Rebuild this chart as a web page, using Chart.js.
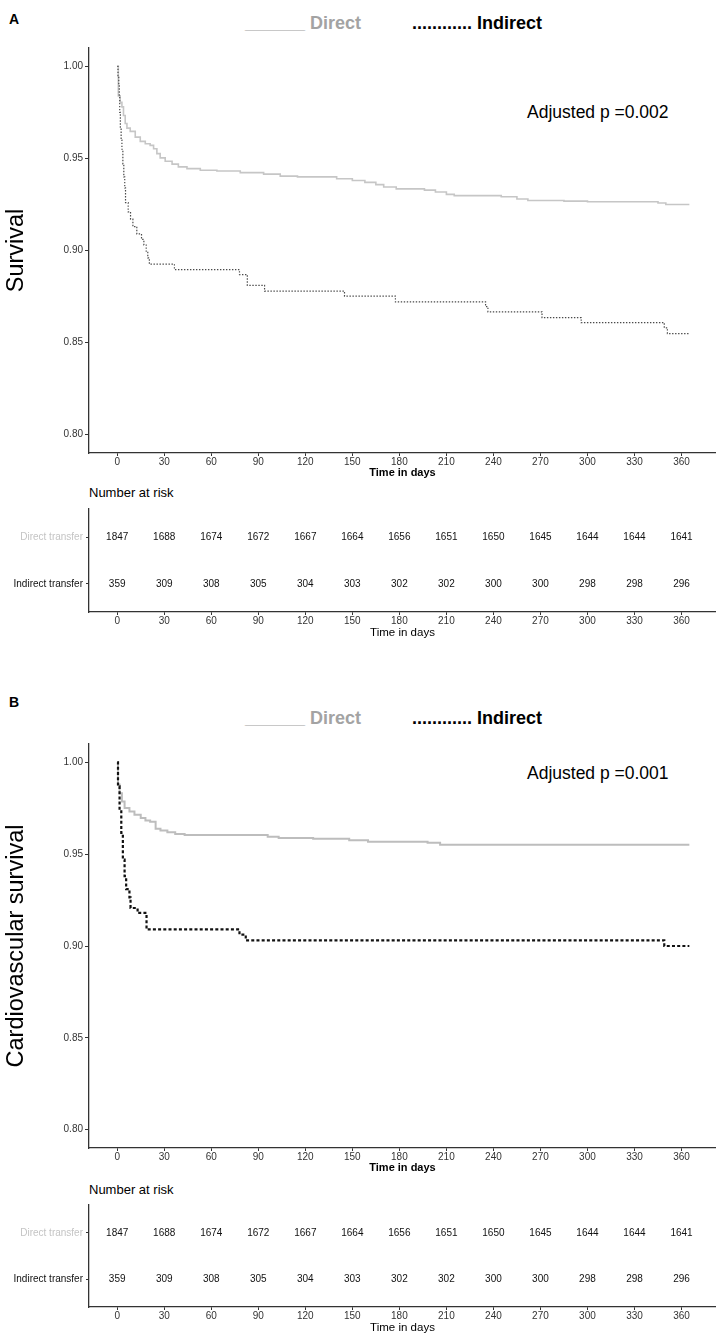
<!DOCTYPE html>
<html>
<head>
<meta charset="utf-8">
<script src="https://cdn.jsdelivr.net/npm/chart.js@4.4.1/dist/chart.umd.min.js"></script>
<style>
  body { margin: 0; background: #fff; }
  #page { position: relative; width: 716px; height: 1339px; font-family: "Liberation Sans", Arial, sans-serif; }
  canvas { position: absolute; left: 0; }
  .txt { position: absolute; white-space: pre; line-height: 1; }
  .panel { font-size: 14px; font-weight: bold; left: 9px; }
  .leg { font-size: 18px; font-weight: bold; }
  .pval { font-size: 17.5px; left: 527px; }
  .risk { font-size: 13px; left: 89px; }
</style>
</head>
<body>
<div id="page">
  <div class="txt panel" style="top:11.5px">A</div>
  <div class="txt leg" style="left:245px;top:14px;color:#a3a3a3">______ Direct</div>
  <div class="txt leg" style="left:412px;top:14px;color:#000">............ Indirect</div>
  <div class="txt pval" style="top:104px">Adjusted p =0.002</div>
  <canvas id="kmA" width="716" height="440" style="top:40px"></canvas>
  <div class="txt risk" style="top:486px">Number at risk</div>
  <canvas id="riskA" width="716" height="140" style="top:500px"></canvas>

  <div class="txt panel" style="top:695px">B</div>
  <div class="txt leg" style="left:245px;top:709px;color:#a3a3a3">______ Direct</div>
  <div class="txt leg" style="left:412px;top:709px;color:#000">............ Indirect</div>
  <div class="txt pval" style="top:765px">Adjusted p =0.001</div>
  <canvas id="kmB" width="716" height="439" style="top:736px"></canvas>
  <div class="txt risk" style="top:1183px">Number at risk</div>
  <canvas id="riskB" width="716" height="139" style="top:1196px"></canvas>
</div>
<script>
// ticks
const xTicks = [0, 30, 60, 90, 120, 150, 180, 210, 240, 270, 300, 330, 360]
const yTicks = [0.80, 0.85, 0.90, 0.95, 1.00]

// number at risk (same in both panels)
const riskDays = [0, 30, 60, 90, 120, 150, 180, 210, 240, 270, 300, 330, 360]
const riskDirect = [1847, 1688, 1674, 1672, 1667, 1664, 1656, 1651, 1650, 1645, 1644, 1644, 1641]
const riskIndirect = [359, 309, 308, 305, 304, 303, 302, 302, 300, 300, 298, 298, 296]

// panel A - survival
const tDirectA = [0, 0.7, 1.9, 3, 4, 5.1, 6.2, 8.3, 11.5, 14.7, 17.9, 21, 23.2, 25.3, 27.4, 30.6, 35, 39, 44.5, 53,
  63.6, 78.5, 93.4, 104, 115, 140, 150, 158, 165, 170, 178, 196, 203, 210, 215, 245, 255, 262, 285, 300, 345, 350, 365]
const sDirectA = [1.000, 0.984, 0.9805, 0.978, 0.9733, 0.969, 0.9665, 0.9647, 0.9616, 0.9593, 0.958, 0.9571, 0.9553, 0.9526, 0.9503, 0.9485, 0.9469, 0.9454, 0.9445, 0.9436,
  0.9432, 0.9423, 0.9415, 0.9404, 0.9400, 0.9390, 0.9380, 0.9370, 0.9358, 0.9345, 0.9335, 0.9328, 0.9318, 0.9305, 0.9298, 0.9292, 0.9280, 0.9272, 0.9268, 0.9265, 0.9258, 0.9250, 0.9250]
const tIndirectA = [0, 0.5, 1, 1.3, 1.6, 2, 2.5, 3, 3.6, 4.2, 4.8, 5.3, 7, 8.5, 10, 12.5, 15.5, 17, 18.5, 19.5,
  20.5, 36.5, 78, 83, 94, 145, 177.5, 235, 236.5, 271, 296, 349, 351, 365]
const sIndirectA = [1.000, 0.995, 0.990, 0.984, 0.975, 0.967, 0.960, 0.955, 0.947, 0.940, 0.934, 0.926, 0.921, 0.917, 0.913, 0.909, 0.906, 0.903, 0.899, 0.896,
  0.8926, 0.8896, 0.8869, 0.8811, 0.8779, 0.8752, 0.8721, 0.8695, 0.8667, 0.8635, 0.8608, 0.8580, 0.8549, 0.8549]

// panel B - cardiovascular survival
const tDirectB = [0, 0.5, 1.5, 3, 4.7, 7.8, 11, 15, 18, 21, 24.5, 27.6, 32, 37, 43, 96, 103, 125, 148, 160, 198, 206, 365]
const sDirectB = [1.000, 0.988, 0.9832, 0.9787, 0.9751, 0.9733, 0.9715, 0.9697, 0.9684, 0.9676, 0.9638, 0.9629, 0.962, 0.961, 0.9604, 0.9595, 0.9588, 0.9584, 0.9576, 0.9568, 0.9562, 0.9552, 0.9552]
const tIndirectB = [0, 0.5, 1.5, 2.6, 3.6, 4.7, 5.7, 7.8, 8.5, 13, 18.7, 78, 82, 349, 365]
const sIndirectB = [1.000, 0.987, 0.974, 0.9616, 0.947, 0.938, 0.931, 0.9265, 0.9207, 0.918, 0.909, 0.9062, 0.9031, 0.900, 0.900]

const FONT = '"Liberation Sans", Arial, sans-serif'
const AXIS = '#333'

function pts (t, s) {
  return t.map((d, i) => ({ x: d, y: s[i] }))
}

function xScale (titleFont, height) {
  return {
    type: 'linear',
    min: -18,
    max: 382,
    afterBuildTicks: s => { s.ticks = xTicks.map(v => ({ value: v })) },
    afterFit: s => { s.height = height },
    border: { display: true, color: AXIS, width: 1.3 },
    grid: { drawOnChartArea: false, tickLength: 3, color: AXIS },
    ticks: { color: AXIS, font: { family: FONT, size: 10 }, padding: 0, maxRotation: 0, autoSkip: false },
    title: { display: true, text: 'Time in days', color: '#000', font: titleFont, padding: 0 }
  }
}

function survivalChart (id, yTitle, direct, indirect, bold) {
  new Chart(document.getElementById(id), {
    type: 'line',
    data: {
      datasets: [
        {
          label: 'Indirect',
          data: indirect,
          order: 0,
          borderColor: bold ? '#111' : '#4a4a4a',
          borderWidth: bold ? 2.2 : 1.2,
          borderDash: bold ? [3, 2.2] : [1.4, 1.6],
          stepped: true,
          pointRadius: 0,
          fill: false
        },
        {
          label: 'Direct',
          data: direct,
          order: 1,
          borderColor: bold ? '#bdbdbd' : '#c6c6c6',
          borderWidth: bold ? 2 : 1.6,
          stepped: true,
          pointRadius: 0,
          fill: false
        }
      ]
    },
    options: {
      responsive: false,
      animation: false,
      layout: { padding: { top: 5, right: 0, bottom: 0, left: 0 } },
      plugins: { legend: { display: false }, tooltip: { enabled: false } },
      scales: {
        x: xScale({ family: FONT, size: 11, weight: 'bold' }, 27),
        y: {
          type: 'linear',
          min: 0.79,
          max: 1.01,
          afterBuildTicks: s => { s.ticks = yTicks.map(v => ({ value: v })) },
          afterFit: s => { s.width = 89 },
          border: { display: true, color: AXIS, width: 1.3 },
          grid: { drawOnChartArea: false, tickLength: 4, color: AXIS },
          ticks: { color: AXIS, font: { family: FONT, size: 10 }, padding: 2, callback: v => v.toFixed(2) },
          title: { display: true, text: yTitle, color: '#000', font: { family: FONT, size: 23.5 }, padding: { top: 2, bottom: 0 } }
        }
      }
    }
  })
}

// writes the number at risk at each point of the table
const riskText = {
  id: 'riskText',
  afterDatasetsDraw (chart) {
    const ctx = chart.ctx
    ctx.save()
    ctx.font = '10px ' + FONT
    ctx.fillStyle = '#111'
    ctx.textAlign = 'center'
    ctx.textBaseline = 'middle'
    chart.data.datasets.forEach((ds, i) => {
      chart.getDatasetMeta(i).data.forEach((el, j) => {
        ctx.fillText(String(ds.data[j].n), el.x, el.y)
      })
    })
    ctx.restore()
  }
}

function riskChart (id) {
  new Chart(document.getElementById(id), {
    type: 'line',
    data: {
      datasets: [
        { label: 'Direct transfer', data: riskDays.map((d, i) => ({ x: d, y: 2, n: riskDirect[i] })), showLine: false, pointRadius: 0 },
        { label: 'Indirect transfer', data: riskDays.map((d, i) => ({ x: d, y: 1, n: riskIndirect[i] })), showLine: false, pointRadius: 0 }
      ]
    },
    plugins: [riskText],
    options: {
      responsive: false,
      animation: false,
      layout: { padding: { top: 5, right: 0, bottom: 0, left: 0 } },
      plugins: { legend: { display: false }, tooltip: { enabled: false } },
      scales: {
        x: xScale({ family: FONT, size: 11.5 }, 28),
        y: {
          type: 'linear',
          min: 0.4,
          max: 2.6,
          afterBuildTicks: s => { s.ticks = [{ value: 1 }, { value: 2 }] },
          afterFit: s => { s.width = 89 },
          border: { display: true, color: AXIS, width: 1.3 },
          grid: { drawOnChartArea: false, tickLength: 3, color: AXIS },
          ticks: {
            font: { family: FONT, size: 10 },
            padding: 3,
            color: c => (c.tick && c.tick.value === 2 ? '#c4c4c4' : '#111'),
            callback: v => (v === 2 ? 'Direct transfer' : v === 1 ? 'Indirect transfer' : '')
          }
        }
      }
    }
  })
}

survivalChart('kmA', 'Survival', pts(tDirectA, sDirectA), pts(tIndirectA, sIndirectA), false)
riskChart('riskA')
survivalChart('kmB', 'Cardiovascular survival', pts(tDirectB, sDirectB), pts(tIndirectB, sIndirectB), true)
riskChart('riskB')
</script>
</body>
</html>
